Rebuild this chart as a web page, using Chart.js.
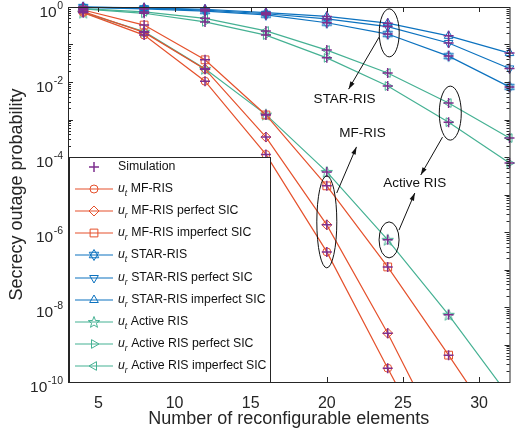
<!DOCTYPE html>
<html>
<head>
<meta charset="utf-8">
<script src="https://cdn.jsdelivr.net/npm/chart.js@4.4.0/dist/chart.umd.min.js"></script>
<style>
  html, body { margin: 0; padding: 0; background: #fff; }
  #chart { display: block; }
</style>
</head>
<body>
<canvas id="chart" width="516" height="436"></canvas>
<script>
// number of reconfigurable elements
var elements = [4, 8, 12, 16, 20, 24, 28, 32];

// secrecy outage probability
var mfUt = [0.71, 0.178, 1.05e-2, 1.17e-4, 2.95e-7, 2.34e-10, 2.0e-13, 1.6e-16];
var mfPerfect = [0.76, 0.21, 2.2e-2, 3.4e-4, 1.55e-6, 2.0e-9, 1.26e-12, 6.3e-16];
var mfImperfect = [0.83, 0.33, 3.9e-2, 1.32e-3, 1.7e-5, 1.17e-7, 5.2e-10, 2.0e-12];
var starUt = [0.98, 0.89, 0.78, 0.62, 0.38, 0.19, 4.9e-2, 7.4e-3];
var starPerfect = [0.99, 0.93, 0.83, 0.66, 0.48, 0.30, 0.11, 2.3e-2];
var starImperfect = [0.995, 0.95, 0.87, 0.71, 0.56, 0.37, 0.17, 5.9e-2];
var activeUt = [0.71, 0.22, 2.24e-2, 1.35e-3, 4.0e-5, 6.2e-7, 6.2e-9, 4.0e-11];
var activePerfect = [0.89, 0.68, 0.40, 0.178, 4.4e-2, 7.8e-3, 8.5e-4, 6.9e-5];
var activeImperfect = [0.91, 0.74, 0.50, 0.23, 7.1e-2, 1.74e-2, 2.75e-3, 3.2e-4];

var seriesLabels = [
  "u_t MF-RIS", "u_r MF-RIS perfect SIC", "u_r MF-RIS imperfect SIC",
  "u_t STAR-RIS", "u_r STAR-RIS perfect SIC", "u_r STAR-RIS imperfect SIC",
  "u_t Active RIS", "u_r Active RIS perfect SIC", "u_r Active RIS imperfect SIC"
];
var xTicks = [5, 10, 15, 20, 25, 30];
var yExponents = [0, -2, -4, -6, -8, -10];

var red = "#E5512C", blue = "#0C72BF", green = "#45B193", purple = "#7E2F8E";
var axisColor = "#262626";
var fontFamily = "'Liberation Sans', Arial, sans-serif";

// hexagram / pentagram markers are not built into chart.js
function hexagram(color) {
  var c = document.createElement("canvas");
  c.width = 14; c.height = 14;
  var g = c.getContext("2d");
  g.strokeStyle = color; g.lineWidth = 1;
  [-90, 90].forEach(function (start) {
    g.beginPath();
    for (var k = 0; k < 3; k++) {
      var a = (start + k * 120) * Math.PI / 180;
      var px = 7 + 5.5 * Math.cos(a), py = 7 + 5.5 * Math.sin(a);
      if (k === 0) g.moveTo(px, py); else g.lineTo(px, py);
    }
    g.closePath();
    g.stroke();
  });
  return c;
}
function pentagram(color) {
  var c = document.createElement("canvas");
  c.width = 14; c.height = 14;
  var g = c.getContext("2d");
  g.strokeStyle = color; g.lineWidth = 1;
  g.beginPath();
  for (var k = 0; k < 10; k++) {
    var r = k % 2 === 0 ? 6 : 2.5;
    var a = (-90 + k * 36) * Math.PI / 180;
    var px = 7 + r * Math.cos(a), py = 7.5 + r * Math.sin(a);
    if (k === 0) g.moveTo(px, py); else g.lineTo(px, py);
  }
  g.closePath();
  g.stroke();
  return c;
}

function series(label, values, color, style, radius, rot) {
  return {
    label: label,
    data: values.map(function (v, i) { return { x: elements[i], y: v }; }),
    borderColor: color,
    borderWidth: 1.2,
    pointStyle: style,
    pointRotation: rot || 0,
    pointRadius: radius,
    pointBorderColor: color,
    pointBackgroundColor: "rgba(0,0,0,0)",
    pointBorderWidth: 1,
    tension: 0,
    clip: { left: 8, top: 8, right: 8, bottom: 0 }
  };
}

var allSeries = [
  series(seriesLabels[0], mfUt, red, "circle", 4),
  series(seriesLabels[1], mfPerfect, red, "rectRot", 5),
  series(seriesLabels[2], mfImperfect, red, "rect", 5.5),
  series(seriesLabels[3], starUt, blue, hexagram(blue), 5),
  series(seriesLabels[4], starPerfect, blue, "triangle", 5, 180),
  series(seriesLabels[5], starImperfect, blue, "triangle", 5),
  series(seriesLabels[6], activeUt, green, pentagram(green), 5),
  series(seriesLabels[7], activePerfect, green, "triangle", 5, 90),
  series(seriesLabels[8], activeImperfect, green, "triangle", 5, -90)
];

var simPoints = [];
allSeries.forEach(function (s) { simPoints = simPoints.concat(s.data); });
var simulation = {
  label: "Simulation",
  data: simPoints,
  showLine: false,
  borderColor: purple,
  pointStyle: "cross",
  pointRadius: 5,
  pointBorderColor: purple,
  pointBorderWidth: 1.5,
  clip: { left: 8, top: 8, right: 8, bottom: 0 }
};

function drawArrow(ctx, x1, y1, x2, y2) {
  ctx.beginPath();
  ctx.moveTo(x1, y1);
  ctx.lineTo(x2, y2);
  ctx.stroke();
  var ang = Math.atan2(y2 - y1, x2 - x1);
  ctx.beginPath();
  ctx.moveTo(x2, y2);
  ctx.lineTo(x2 - 8 * Math.cos(ang - 0.3), y2 - 8 * Math.sin(ang - 0.3));
  ctx.lineTo(x2 - 8 * Math.cos(ang + 0.3), y2 - 8 * Math.sin(ang + 0.3));
  ctx.closePath();
  ctx.fill();
}

function drawLabel(ctx, text, x, y) {
  var m = /^u_([tr]) (.*)$/.exec(text);
  ctx.textBaseline = "middle";
  ctx.textAlign = "left";
  ctx.fillStyle = "#111";
  if (!m) {
    ctx.font = "12.3px " + fontFamily;
    ctx.fillText(text, x, y);
    return;
  }
  ctx.font = "italic 12.3px " + fontFamily;
  ctx.fillText("u", x, y);
  x += ctx.measureText("u").width;
  ctx.font = "italic 8.5px " + fontFamily;
  ctx.fillText(m[1], x, y + 5);
  x += ctx.measureText(m[1]).width + 3.5;
  ctx.font = "12.3px " + fontFamily;
  ctx.fillText(m[2], x, y);
}

function legendPoint(ctx, ds, x, y) {
  var opts = {
    pointStyle: ds.pointStyle,
    rotation: ds.pointRotation || 0,
    radius: ds.pointRadius,
    borderWidth: ds.pointBorderWidth
  };
  if (Chart.helpers && Chart.helpers.drawPoint) {
    Chart.helpers.drawPoint(ctx, opts, x, y);
  }
}

var decorations = {
  id: "decorations",
  afterDatasetsDraw: function (chart) {
    var ctx = chart.ctx, a = chart.chartArea;
    var sx = chart.scales.x, sy = chart.scales.y;
    function X(v) { return sx.getPixelForValue(v); }
    function Y(l) { return sy.getPixelForValue(Math.pow(10, l)); }
    ctx.save();

    // box and inward ticks
    ctx.strokeStyle = axisColor;
    ctx.lineWidth = 1;
    ctx.strokeRect(a.left + 0.5, a.top + 0.5, a.right - a.left, a.bottom - a.top);
    ctx.beginPath();
    xTicks.forEach(function (v) {
      var px = Math.round(X(v)) + 0.5;
      ctx.moveTo(px, a.bottom); ctx.lineTo(px, a.bottom - 5);
      ctx.moveTo(px, a.top); ctx.lineTo(px, a.top + 5);
    });
    for (var e = -10; e <= 0; e++) {
      for (var m = 1; m <= 9; m++) {
        if (e === 0 && m > 1) break;
        var len = m === 1 ? 5 : 3;
        var py = Math.round(sy.getPixelForValue(m * Math.pow(10, e))) + 0.5;
        ctx.moveTo(a.left, py); ctx.lineTo(a.left + len, py);
        ctx.moveTo(a.right, py); ctx.lineTo(a.right - len, py);
      }
    }
    ctx.stroke();

    // annotations
    ctx.strokeStyle = "#111";
    ctx.fillStyle = "#111";
    ctx.lineWidth = 1;
    [[24.1, -0.69, 10, 24], [28.11, -2.83, 11, 27], [24.09, -6.21, 10, 18], [20.0, -5.73, 10, 46]].forEach(function (el) {
      ctx.beginPath();
      ctx.ellipse(X(el[0]), Y(el[1]), el[2], el[3], 0, 0, Math.PI * 2);
      ctx.stroke();
    });
    drawArrow(ctx, X(23.44), Y(-0.8), X(21.43), Y(-2.19));
    drawArrow(ctx, X(27.6), Y(-3.47), X(26.17), Y(-4.48));
    drawArrow(ctx, X(24.74), Y(-5.95), X(25.78), Y(-4.96));
    drawArrow(ctx, X(20.65), Y(-4.96), X(21.95), Y(-3.73));
    ctx.font = "13.5px " + fontFamily;
    ctx.textAlign = "center";
    ctx.textBaseline = "middle";
    ctx.fillText("STAR-RIS", X(21.17), Y(-2.45));
    ctx.fillText("MF-RIS", X(22.34), Y(-3.36));
    ctx.fillText("Active RIS", X(25.78), Y(-4.69));

    // legend box
    var lx = 69, ly = 157, lw = 201, lh = 225;
    ctx.fillStyle = "#fff";
    ctx.fillRect(lx, ly, lw, lh);
    ctx.strokeStyle = axisColor;
    ctx.lineWidth = 1;
    ctx.strokeRect(lx + 0.5, ly + 0.5, lw, lh);
    chart.data.datasets.forEach(function (ds, i) {
      var y = Math.round(167 + i * 22.1);
      if (ds.showLine !== false) {
        ctx.strokeStyle = ds.borderColor;
        ctx.lineWidth = ds.borderWidth;
        ctx.beginPath();
        ctx.moveTo(75, y); ctx.lineTo(113, y);
        ctx.stroke();
      }
      ctx.strokeStyle = ds.pointBorderColor;
      ctx.fillStyle = "rgba(0,0,0,0)";
      ctx.lineWidth = ds.pointBorderWidth;
      legendPoint(ctx, ds, 94, y);
      drawLabel(ctx, ds.label, 118, y);
    });
    ctx.restore();
  },
  afterDraw: function (chart) {
    // y tick labels with superscript exponents
    var ctx = chart.ctx, sy = chart.scales.y;
    ctx.save();
    ctx.fillStyle = axisColor;
    ctx.textBaseline = "middle";
    ctx.textAlign = "right";
    yExponents.forEach(function (e) {
      var py = sy.getPixelForValue(Math.pow(10, e));
      var exp = e === 0 ? "0" : "-" + (-e);
      ctx.font = "10.5px " + fontFamily;
      ctx.fillText(exp, 63, py - 1);
      var w = ctx.measureText(exp).width;
      ctx.font = "15.5px " + fontFamily;
      ctx.fillText("10", 63 - w - 0.5, py + 6);
    });
    ctx.restore();
  }
};

new Chart(document.getElementById("chart"), {
  type: "line",
  data: { datasets: [simulation].concat(allSeries) },
  plugins: [decorations],
  options: {
    responsive: false,
    animation: false,
    layout: { padding: { top: 7, right: 1, left: 0, bottom: 0 } },
    plugins: { legend: { display: false }, tooltip: { enabled: false } },
    scales: {
      x: {
        type: "linear",
        min: 3,
        max: 32,
        grid: { display: false, drawTicks: false },
        border: { display: false },
        afterFit: function (s) { s.height = 54; },
        afterBuildTicks: function (s) {
          s.ticks = xTicks.map(function (v) { return { value: v }; });
        },
        ticks: {
          font: { size: 16, family: fontFamily },
          color: axisColor,
          padding: 12,
          maxRotation: 0,
          autoSkip: false
        },
        title: {
          display: true,
          text: "Number of reconfigurable elements",
          font: { size: 18, family: fontFamily },
          color: axisColor,
          padding: { top: 0, bottom: 6 }
        }
      },
      y: {
        type: "logarithmic",
        min: 1e-10,
        max: 1,
        grid: { display: false, drawTicks: false },
        border: { display: false },
        ticks: { display: false },
        afterFit: function (s) { s.width = 68; },
        title: {
          display: true,
          text: "Secrecy outage probability",
          font: { size: 18, family: fontFamily },
          color: axisColor,
          padding: { top: 6, bottom: 0 }
        }
      }
    }
  }
});
</script>
</body>
</html>
